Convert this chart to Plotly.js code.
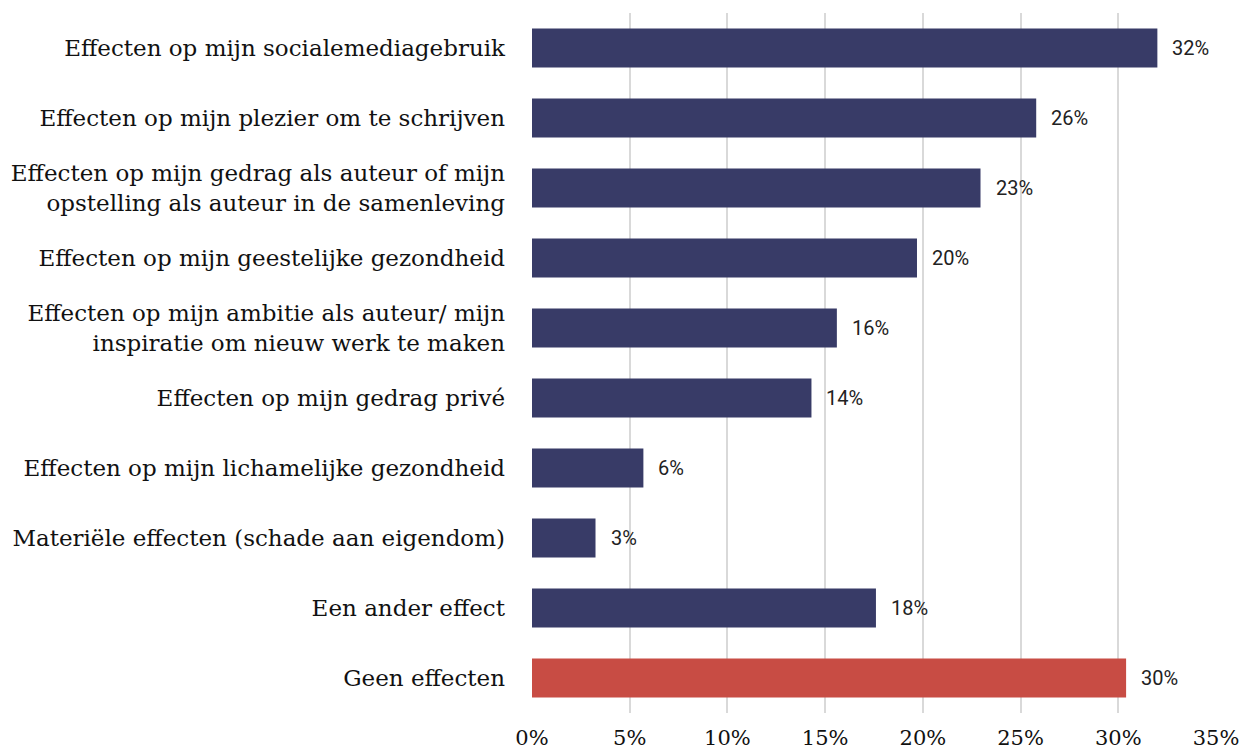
<!DOCTYPE html>
<html>
<head>
<meta charset="utf-8">
<script src="https://cdn.plot.ly/plotly-3.0.1.min.js"></script>
<style>html,body{margin:0;padding:0;background:#fff;}#chart{width:1244px;height:755px;}</style>
</head>
<body>
<div id="chart"></div>
<script>
var categories = [
  "Effecten op mijn socialemediagebruik",
  "Effecten op mijn plezier om te schrijven",
  "Effecten op mijn gedrag als auteur of mijn<br>opstelling als auteur in de samenleving",
  "Effecten op mijn geestelijke gezondheid",
  "Effecten op mijn ambitie als auteur/ mijn<br>inspiratie om nieuw werk te maken",
  "Effecten op mijn gedrag privé",
  "Effecten op mijn lichamelijke gezondheid",
  "Materiële effecten (schade aan eigendom)",
  "Een ander effect",
  "Geen effecten"
];
var values = [32.0, 25.8, 22.95, 19.7, 15.6, 14.3, 5.7, 3.25, 17.6, 30.4];
var valueLabels = ["32%", "26%", "23%", "20%", "16%", "14%", "6%", "3%", "18%", "30%"];
var barColors = ["#383b67", "#383b67", "#383b67", "#383b67", "#383b67", "#383b67", "#383b67", "#383b67", "#383b67", "#c84c44"];
var tickValues = [0, 5, 10, 15, 20, 25, 30, 35];
var tickLabels = ["0%", "5%", "10%", "15%", "20%", "25%", "30%", "35%"];

var trace = {
  type: "bar",
  orientation: "h",
  x: values,
  y: categories,
  marker: {color: barColors},
  width: 0.56,
  hoverinfo: "none"
};

var annotations = values.map(function (v, i) {
  return {
    x: v, y: categories[i], xref: "x", yref: "y",
    text: valueLabels[i], showarrow: false,
    xanchor: "left", yanchor: "middle", xshift: 13,
    font: {family: "Roboto, sans-serif", size: 20, color: "#222222"}
  };
});

var layout = {
  width: 1244, height: 755,
  margin: {l: 532, r: 28, t: 13, b: 42},
  paper_bgcolor: "#ffffff", plot_bgcolor: "#ffffff",
  showlegend: false,
  bargap: 0.44,
  xaxis: {
    range: [0, 35],
    tickvals: tickValues,
    ticktext: tickLabels,
    showgrid: true, gridcolor: "#d9d9d9", gridwidth: 2,
    zeroline: false, showline: false,
    ticks: "", ticklabelstandoff: 10,
    tickfont: {family: "DejaVu Serif, serif", size: 21, color: "#111111"},
    fixedrange: true
  },
  yaxis: {
    autorange: "reversed",
    showgrid: false, zeroline: false, showline: false,
    ticks: "", ticklabelstandoff: 26,
    tickfont: {family: "DejaVu Serif, serif", size: 23, color: "#111111"},
    fixedrange: true
  },
  annotations: annotations
};

Plotly.newPlot("chart", [trace], layout, {displayModeBar: false, staticPlot: true});
</script>
</body>
</html>
